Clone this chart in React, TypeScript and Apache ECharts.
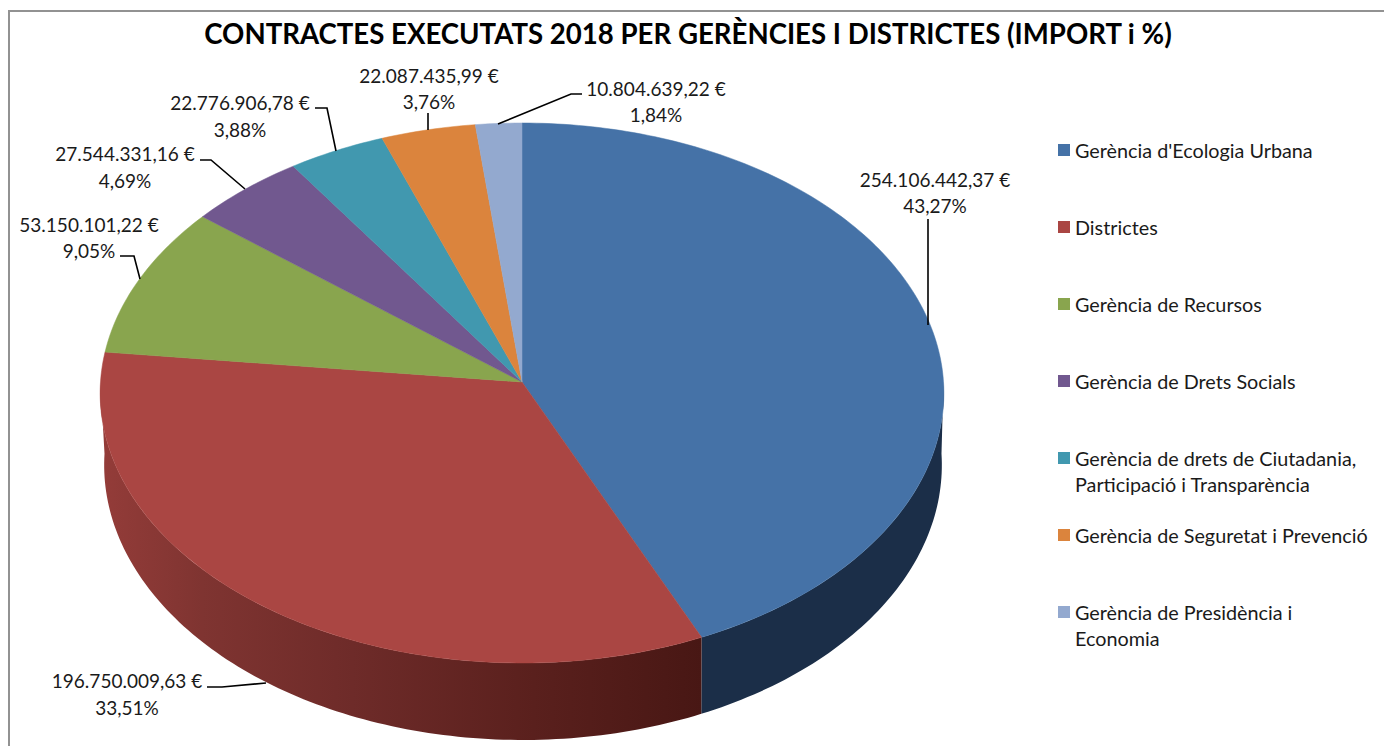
import React, { useEffect, useRef } from "react";
import * as echarts from "echarts";

const titleText = "CONTRACTES EXECUTATS 2018 PER GERÈNCIES I DISTRICTES (IMPORT i %)";
const categories = [
  "Gerència d'Ecologia Urbana",
  "Districtes",
  "Gerència de Recursos",
  "Gerència de Drets Socials",
  "Gerència de drets de Ciutadania, Participació i Transparència",
  "Gerència de Seguretat i Prevenció",
  "Gerència de Presidència i Economia",
];
const legendFirstLines = [
  "Gerència d'Ecologia Urbana",
  "Districtes",
  "Gerència de Recursos",
  "Gerència de Drets Socials",
  "Gerència de drets de Ciutadania,",
  "Gerència de Seguretat i Prevenció",
  "Gerència de Presidència i",
];
const legendSecondLines = ["", "", "", "", "Participació i Transparència", "", "Economia"];
const amounts = [254106442.37, 196750009.63, 53150101.22, 27544331.16, 22776906.78, 22087435.99, 10804639.22];
const amountLabels = [
  "254.106.442,37 €",
  "196.750.009,63 €",
  "53.150.101,22 €",
  "27.544.331,16 €",
  "22.776.906,78 €",
  "22.087.435,99 €",
  "10.804.639,22 €",
];
const percentLabels = ["43,27%", "33,51%", "9,05%", "4,69%", "3,88%", "3,76%", "1,84%"];

const colors = ["#4572A7", "#AA4643", "#89A54E", "#71588F", "#4198AF", "#DB843D", "#93A9CF"];
const FONT = "Lato";
const LABEL_SIZE = 19;
const LEGEND_SIZE = 19.8;

// value-label placement: centre x, first line centre y, second line centre y
const labelCentres = [
  [935, 179, 205],
  [127, 680, 707],
  [89, 224, 250],
  [125, 153, 180],
  [240, 102, 129],
  [429, 75, 101],
  [656, 88, 114],
];
const leaders = [
  [[928, 219], [928, 325]],
  [[207, 687], [222, 687], [266, 683]],
  [[120, 256], [134, 256], [140, 279]],
  [[200, 160], [211, 160], [245, 189]],
  [[315, 108], [327, 108], [336, 151]],
  [[428, 113], [428, 130]],
  [[498, 124], [571, 94], [582, 94]],
];

// tilted-disc projection of a unit circle (apex is the projected centre)
const APEX_X = 522;
const APEX_Y = 382;
const RX = 421.5;
const K = -0.0407;
const A = 254;
const rim = (deg: number): number[] => {
  const t = (deg * Math.PI) / 180;
  const u = Math.sin(t);
  const v = -Math.cos(t);
  const d = 1 + K * v;
  return [APEX_X + (RX * u) / d, (A * v + APEX_Y) / d];
};
const lowerRim = (deg: number): number[] => {
  const [x, y] = rim(deg);
  return [523 + (x - APEX_X) * (418 / 421), 465 + (y - 393) * (275 / 270)];
};
const arc = (f: (d: number) => number[], from: number, to: number): number[][] => {
  const out: number[][] = [];
  const n = Math.max(2, Math.ceil(Math.abs(to - from)));
  for (let i = 0; i <= n; i++) out.push(f(from + ((to - from) * i) / n));
  return out;
};

const total = amounts.reduce((a, b) => a + b, 0);
const starts: number[] = [];
amounts.reduce((acc, v, i) => {
  starts[i] = (acc / total) * 360;
  return acc + v;
}, 0);

const wallFill = (i: number): any => {
  if (i === 0) return "#1B2E48";
  return new echarts.graphic.LinearGradient(
    100, 0, 702, 0,
    [
      { offset: 0, color: "#943C39" },
      { offset: 0.17, color: "#7F3431" },
      { offset: 0.42, color: "#6E2B29" },
      { offset: 0.72, color: "#5A201D" },
      { offset: 1, color: "#481714" },
    ],
    true
  );
};

const renderSlice = (i: number) => () => {
  const a0 = starts[i];
  const a1 = a0 + (amounts[i] / total) * 360;
  const children: any[] = [];
  const wA = Math.max(a0, 90);
  const wB = Math.min(a1, 270);
  if (wB > wA) {
    const pts = [...arc(rim, wA, wB), ...arc(lowerRim, wB, wA)];
    children.push({
      type: "polygon",
      shape: { points: pts },
      style: { fill: wallFill(i), stroke: null },
    });
  }
  children.push({
    type: "polygon",
    shape: { points: [[APEX_X, APEX_Y], ...arc(rim, a0, a1)] },
    style: { fill: colors[i], stroke: colors[i], lineWidth: 0.5 },
  });
  return { type: "group", children };
};

export default function App() {
  const ref = useRef<HTMLDivElement>(null);
  useEffect(() => {
    const chart = echarts.init(ref.current!, null, { renderer: "svg" });
    const legends = categories.map((name, i) => ({
      data: [{ name }],
      left: 1058,
      top: 137 + 77 * i,
      padding: 0,
      itemWidth: 12,
      itemHeight: 12,
      icon: "rect",
      selectedMode: false,
      formatter: () => legendFirstLines[i],
      textStyle: { fontFamily: FONT, fontSize: LEGEND_SIZE, color: "#1a1a1a", lineHeight: 26 },
    }));
    const labelTexts = amountLabels.flatMap((t, i) => [
      { text: t, y: labelCentres[i][1], x: labelCentres[i][0] },
      { text: percentLabels[i], y: labelCentres[i][2], x: labelCentres[i][0] },
    ]);
    chart.setOption({
      animation: false,
      backgroundColor: "#fff",
      title: {
        text: titleText,
        left: 688,
        top: 19,
        textAlign: "center",
        padding: 0,
        textStyle: { fontFamily: FONT, fontSize: 27.6, fontWeight: "bold", color: "#000" },
      },
      legend: legends,
      graphic: [
        {
          type: "polyline",
          shape: { points: [[9, 746], [9, 11], [1384, 11]] },
          style: { stroke: "#929292", lineWidth: 2, fill: null },
          silent: true,
        },
        ...leaders.map((points) => ({
          type: "polyline",
          z: 10,
          shape: { points },
          style: { stroke: "#000", lineWidth: 1.6, fill: null },
          silent: true,
        })),
        ...labelTexts.map((l) => ({
          type: "text",
          x: l.x,
          y: l.y,
          z: 10,
          style: {
            text: l.text,
            align: "center",
            verticalAlign: "middle",
            font: `${LABEL_SIZE}px ${FONT}`,
            fill: "#1a1a1a",
          },
          silent: true,
        })),
        ...legendSecondLines
          .map((t, i) => ({ t, i }))
          .filter((o) => o.t)
          .map((o) => ({
            type: "text",
            x: 1075,
            y: 137 + 77 * o.i + 13 + 26,
            style: {
              text: o.t,
              align: "left",
              verticalAlign: "middle",
              font: `${LEGEND_SIZE}px ${FONT}`,
              fill: "#1a1a1a",
            },
            silent: true,
          })),
      ],
      series: categories.map((name, i) => ({
        type: "custom",
        name,
        coordinateSystem: "none",
        silent: true,
        itemStyle: { color: colors[i] },
        data: [[amounts[i]]],
        renderItem: renderSlice(i),
      })),
    });
    return () => chart.dispose();
  }, []);
  return <div ref={ref} style={{ position: "absolute", left: 0, top: 0, width: 1384, height: 746 }} />;
}
